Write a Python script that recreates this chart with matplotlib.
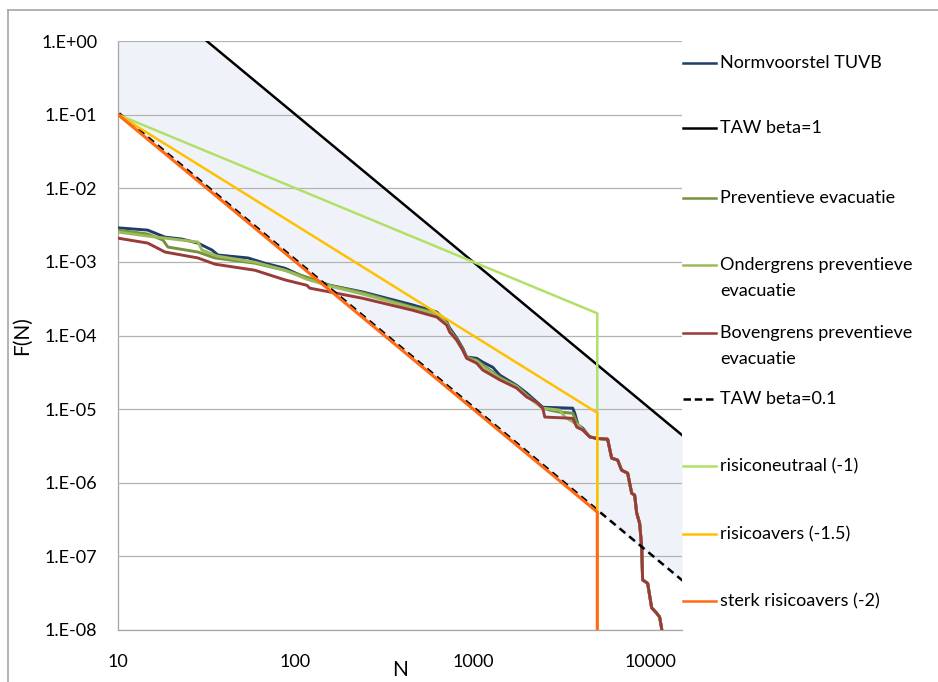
import matplotlib
matplotlib.use("Agg")
import matplotlib.pyplot as plt
from matplotlib.lines import Line2D
from matplotlib.ticker import FixedLocator, NullLocator
import matplotlib.transforms as mtransforms

plt.rcParams['font.family'] = ['Lato', 'DejaVu Sans']

# ---------------- data ----------------
tail_N = [4532, 4966, 5719, 6024, 6512, 6856, 7413, 7812, 8117, 8332, 8663,
          8896, 9000, 9610, 10120, 10790, 11220, 11510, 11600]
tail_F = [4.2e-6, 4.0e-6, 3.9e-6, 2.16e-6, 2.03e-6, 1.48e-6, 1.35e-6, 7.2e-7,
          6.8e-7, 3.9e-7, 2.8e-7, 1.33e-7, 4.8e-8, 4.3e-8, 2.0e-8, 1.7e-8,
          1.5e-8, 1.06e-8, 9e-9]

norm_N = [10, 14.7, 18.4, 22.9, 28.2, 33.8, 36.5, 54, 67, 87, 116, 156, 239,
          457, 624, 710, 738, 809, 874, 920, 1047, 1132, 1290, 1411, 1759,
          2003, 2466, 3637, 3734, 3895, 4142]
norm_F = [2.9e-3, 2.7e-3, 2.17e-3, 2.04e-3, 1.8e-3, 1.45e-3, 1.24e-3, 1.13e-3,
          9.6e-4, 8.2e-4, 6.0e-4, 4.8e-4, 3.9e-4, 2.6e-4, 2.08e-4, 1.52e-4,
          1.26e-4, 9.2e-5, 6.7e-5, 5.1e-5, 4.9e-5, 4.35e-5, 3.7e-5, 2.9e-5,
          2.1e-5, 1.65e-5, 1.06e-5, 1.03e-5, 8.8e-6, 6.1e-6, 5.5e-6]

prev_N = [10, 14.7, 17.9, 19.1, 28.2, 35.2, 59, 87, 116, 156, 239, 457, 624,
          710, 738, 809, 874, 920, 1047, 1132, 1411, 1759, 2003, 2466, 2702,
          3078, 3637, 3895]
prev_F = [2.7e-3, 2.39e-3, 1.98e-3, 1.59e-3, 1.36e-3, 1.13e-3, 9.6e-4, 7.7e-4,
          6.2e-4, 4.8e-4, 3.8e-4, 2.43e-4, 2.01e-4, 1.47e-4, 1.18e-4, 8.9e-5,
          6.5e-5, 5.1e-5, 4.6e-5, 4.0e-5, 2.7e-5, 2.05e-5, 1.55e-5, 1.03e-5,
          9.7e-6, 9.1e-6, 8.8e-6, 6.1e-6]

onder_N = [10, 14.7, 28.2, 29.7, 36.1, 59, 87, 116, 156, 239, 457, 624, 710,
           738, 809, 874, 920, 1047, 1132, 1411, 1759, 2003, 2466, 3078, 3285,
           3895]
onder_F = [2.54e-3, 2.24e-3, 1.86e-3, 1.45e-3, 1.2e-3, 9.9e-4, 7.7e-4, 5.8e-4,
           4.7e-4, 3.65e-4, 2.36e-4, 1.95e-4, 1.43e-4, 1.15e-4, 8.4e-5, 6.3e-5,
           4.9e-5, 4.5e-5, 3.8e-5, 2.6e-5, 2.0e-5, 1.5e-5, 1.03e-5, 9.7e-6,
           7.8e-6, 6.1e-6]

boven_N = [10, 14.7, 18.4, 28.2, 35.2, 59, 87, 116, 120, 156, 239, 457, 624,
           710, 738, 809, 874, 920, 1047, 1132, 1411, 1759, 2003, 2280, 2466,
           2531, 3637, 3831, 4142]
boven_F = [2.1e-3, 1.8e-3, 1.36e-3, 1.13e-3, 9.3e-4, 7.7e-4, 5.7e-4, 4.8e-4,
           4.4e-4, 3.9e-4, 3.2e-4, 2.2e-4, 1.78e-4, 1.38e-4, 1.11e-4, 8.7e-5,
           6.3e-5, 4.9e-5, 4.2e-5, 3.4e-5, 2.5e-5, 1.93e-5, 1.46e-5, 1.24e-5,
           1.03e-5, 7.8e-6, 7.5e-6, 5.7e-6, 5.2e-6]

taw1_N = [31.6, 15000]
taw1_F = [1.0, 4.44e-6]
taw01_N = [10, 15000]
taw01_F = [0.1, 4.44e-8]

band_N = [10, 31.6, 15000]
band_lo = [0.1, 0.01, 4.44e-8]
band_hi = [1.0, 1.0, 4.44e-6]

neutral_N = [10, 5000, 5000]
neutral_F = [0.1, 2e-4, 1e-8]
averse_N = [10, 5000, 5000]
averse_F = [0.1, 8.9e-6, 1e-8]
strong_N = [10, 5000, 5000]
strong_F = [0.1, 4e-7, 1e-8]

y_ticks = [1e0, 1e-1, 1e-2, 1e-3, 1e-4, 1e-5, 1e-6, 1e-7, 1e-8]
y_labels = ["1.E+00", "1.E-01", "1.E-02", "1.E-03", "1.E-04", "1.E-05",
            "1.E-06", "1.E-07", "1.E-08"]
x_ticks = [10, 100, 1000, 10000]
x_labels = ["10", "100", "1000", "10000"]

labels = ["Normvoorstel TUVB", "TAW beta=1", "Preventieve evacuatie",
          "Ondergrens preventieve\nevacuatie",
          "Bovengrens preventieve\nevacuatie", "TAW beta=0.1",
          "risiconeutraal (-1)", "risicoavers (-1.5)", "sterk risicoavers (-2)"]

# ---------------- styling ----------------
C_NAVY = '#1f3c6b'
C_BLACK = '#000000'
C_OLIVE = '#76923c'
C_LGREEN = '#9bbb59'
C_RED = '#9b3b39'
C_LIME = '#b2e067'
C_YELLOW = '#ffc000'
C_ORANGE = '#ff6a13'
C_FILL = '#eff3f9'
C_GRID = '#b4b4b4'

W, H = 938, 682
fig = plt.figure(figsize=(W / 100, H / 100), dpi=100)
ax = fig.add_axes([118 / W, 1 - 630 / H, (682 - 118) / W, (630 - 41) / H])

ax.set_xscale('log')
ax.set_yscale('log')
ax.set_xlim(10, 15000)
ax.set_ylim(1e-8, 1)

ax.fill_between(band_N, band_lo, band_hi, color=C_FILL, lw=0, zorder=1)

ax.yaxis.set_major_locator(FixedLocator(y_ticks))
ax.yaxis.set_minor_locator(NullLocator())
ax.set_yticklabels(y_labels)
ax.xaxis.set_major_locator(FixedLocator(x_ticks))
ax.xaxis.set_minor_locator(NullLocator())
ax.set_xticklabels(x_labels)
ax.tick_params(axis='both', length=0, labelsize=13, colors='#000000')
ax.tick_params(axis='y', pad=15)
ax.tick_params(axis='x', pad=17)

ax.grid(axis='y', color=C_GRID, lw=0.9, zorder=0.5)
ax.set_axisbelow(False)
for s in ['top', 'right']:
    ax.spines[s].set_visible(False)
for s in ['left', 'bottom']:
    ax.spines[s].set_color('#a6a6a6')
    ax.spines[s].set_linewidth(0.9)

lw_fn = 2.1
lw_ln = 1.8
styles = [
    (norm_N + tail_N, norm_F + tail_F, C_NAVY, lw_fn),
    (taw1_N, taw1_F, C_BLACK, lw_ln),
    (prev_N + tail_N, prev_F + tail_F, C_OLIVE, lw_fn),
    (onder_N + tail_N, onder_F + tail_F, C_LGREEN, lw_fn),
    (boven_N + tail_N, boven_F + tail_F, C_RED, lw_fn),
]
z = 3
for xs, ys, c, lw in styles:
    ax.plot(xs, ys, color=c, lw=lw, zorder=z)
    z += 0.1

# dashed line drawn with a tiny visual offset so the orange line shows beside it
dash_tr = mtransforms.offset_copy(ax.transData, fig=fig, x=1.2, y=1.2, units='dots')
ax.plot(taw01_N, taw01_F, color=C_BLACK, ls=(0, (3, 2)), lw=lw_ln, zorder=4.0,
        transform=dash_tr)
ax.plot(neutral_N, neutral_F, color=C_LIME, lw=lw_ln, zorder=4.1)
ax.plot(averse_N, averse_F, color=C_YELLOW, lw=lw_ln, zorder=4.2)
ax.plot(strong_N, strong_F, color=C_ORANGE, lw=2.2, zorder=4.3)

ax.set_xlabel("N", fontsize=15)
ax.xaxis.set_label_coords(0.5, -(670 - 630) / 589)
ax.xaxis.label.set_va('center')
ax.set_ylabel("F(N)", fontsize=15)
ax.yaxis.set_label_coords((22 - 118) / 564, 0.5)
ax.yaxis.label.set_va('center')

# ---------------- legend (manual, right side) ----------------
leg_colors = [C_NAVY, C_BLACK, C_OLIVE, C_LGREEN, C_RED, C_BLACK, C_LIME,
              C_YELLOW, C_ORANGE]
leg_ls = ['-', '-', '-', '-', '-', (0, (3, 1.5)), '-', '-', '-']
leg_y = [63, 128, 198, 265, 333, 399, 466, 534, 601]
for lab, c, ls, yp in zip(labels, leg_colors, leg_ls, leg_y):
    yf = 1 - yp / H
    fig.add_artist(Line2D([683 / W, 716 / W], [yf, yf], color=c, ls=ls,
                          lw=1.8, transform=fig.transFigure))
    if '\n' in lab:
        first, second = lab.split('\n')
        fig.text(720 / W, yf, first, fontsize=13, va='center', ha='left')
        fig.text(720 / W, 1 - (yp + 26) / H, second, fontsize=13, va='center', ha='left')
    else:
        fig.text(720 / W, yf, lab, fontsize=13, va='center', ha='left')

# outer border of the chart area
fig.add_artist(Line2D([8 / W, 8 / W], [0, 1 - 10 / H], color='#a6a6a6', lw=1.2,
                      transform=fig.transFigure))
fig.add_artist(Line2D([8 / W, 1], [1 - 10 / H, 1 - 10 / H], color='#a6a6a6', lw=1.2,
                      transform=fig.transFigure))

fig.savefig("out.png", dpi=100)
